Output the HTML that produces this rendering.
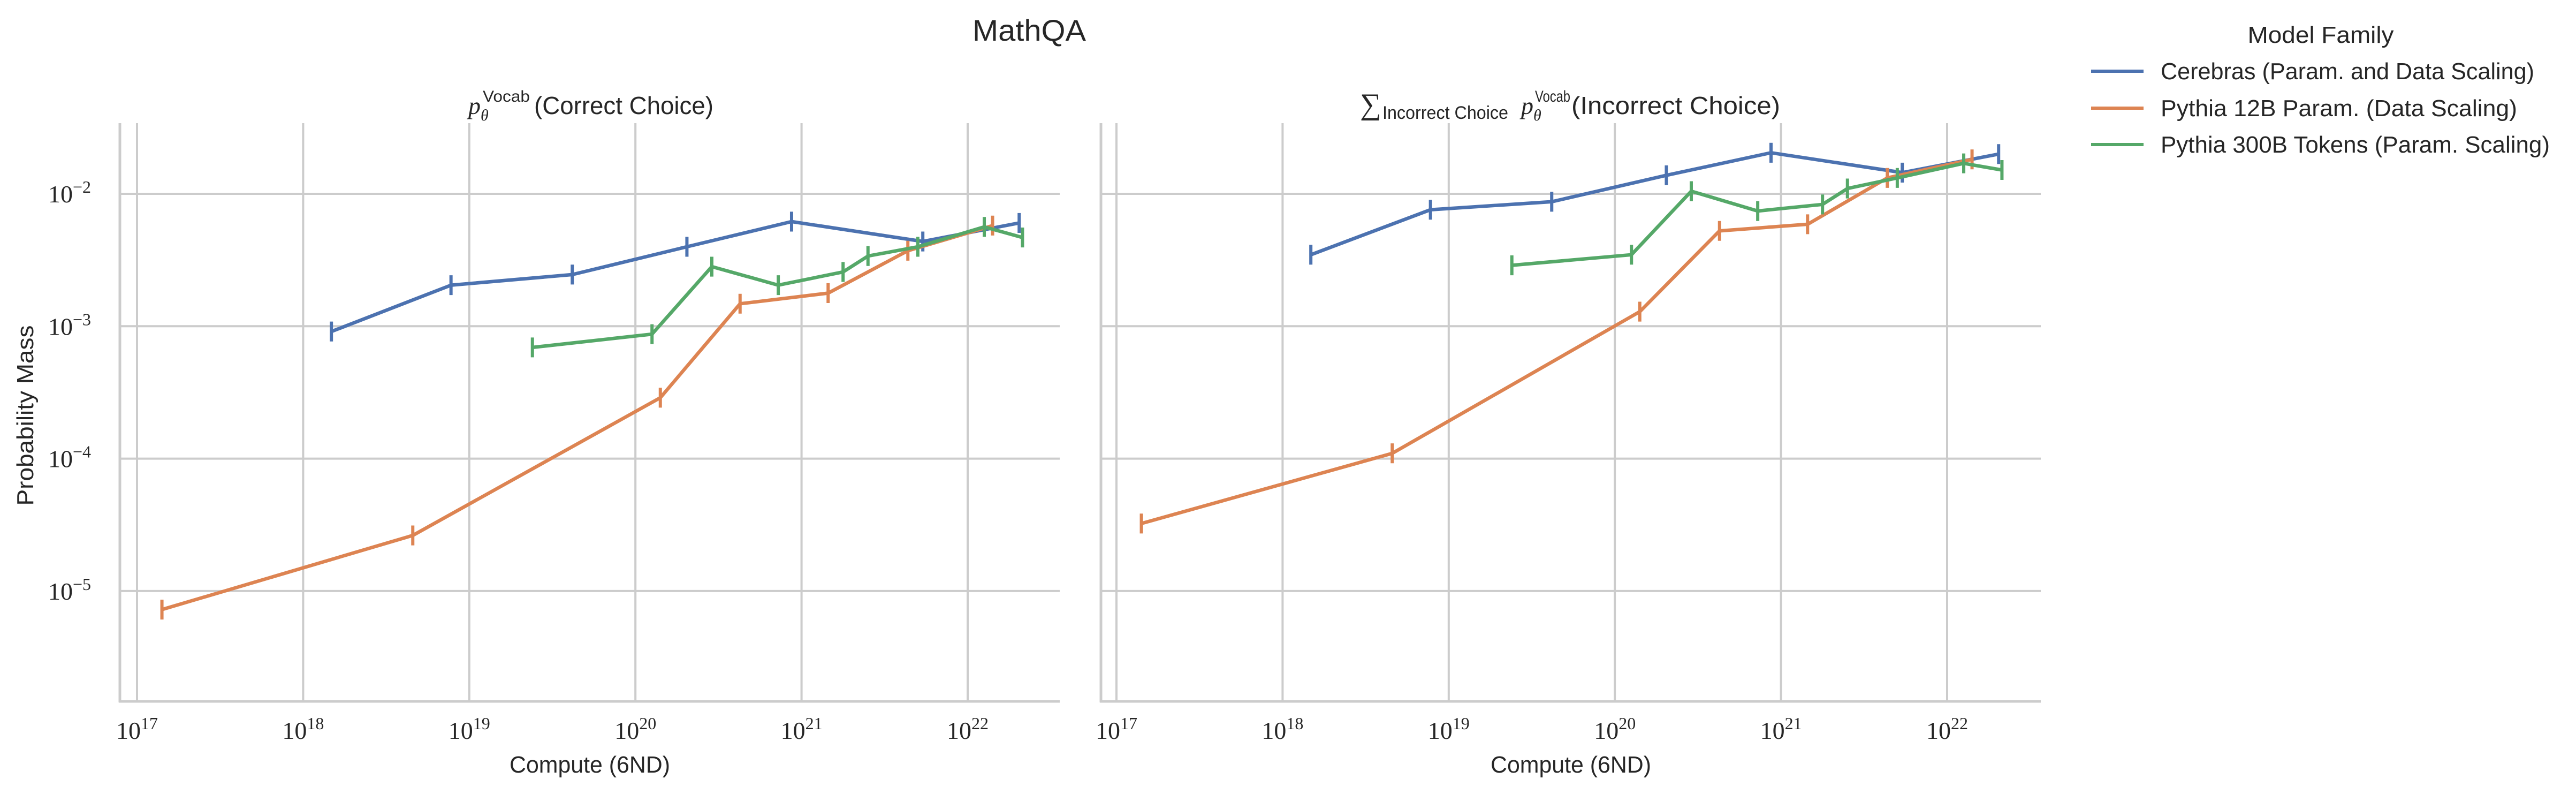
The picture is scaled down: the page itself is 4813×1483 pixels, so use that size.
<!DOCTYPE html>
<html><head><meta charset="utf-8"><style>
html,body{margin:0;padding:0;background:#fff}
svg{display:block}
.sans{font-family:"Liberation Sans",sans-serif;fill:#262626}
.serif{font-family:"Liberation Serif",serif;fill:#262626}
</style></head><body>
<svg id="chart" width="4813" height="1483" viewBox="0 0 4813 1483">
<text class="sans" x="1923" y="76" font-size="56" text-anchor="middle" textLength="212" lengthAdjust="spacingAndGlyphs">MathQA</text>
<g id="left"></g>
<g id="right"></g>
<text class="serif" x="875" y="213" font-size="46" font-style="italic">p<tspan font-size="30" dy="12">θ</tspan></text>
<text class="sans" x="902" y="190" font-size="30" textLength="88" lengthAdjust="spacingAndGlyphs">Vocab</text>
<text class="sans" x="998" y="213" font-size="46" textLength="335" lengthAdjust="spacingAndGlyphs">(Correct Choice)</text>
<text class="serif" x="2541" y="213" font-size="56">∑</text>
<text class="sans" x="2583" y="222" font-size="34" textLength="235" lengthAdjust="spacingAndGlyphs">Incorrect Choice</text>
<text class="serif" x="2842" y="213" font-size="46" font-style="italic">p<tspan font-size="30" dy="12">θ</tspan></text>
<text class="sans" x="2868" y="190" font-size="30" textLength="66" lengthAdjust="spacingAndGlyphs">Vocab</text>
<text class="sans" x="2936" y="213" font-size="46" textLength="390" lengthAdjust="spacingAndGlyphs">(Incorrect Choice)</text>
<text class="sans" x="0" y="0" font-size="44" text-anchor="middle" textLength="337" lengthAdjust="spacingAndGlyphs" transform="translate(62,776) rotate(-90)">Probability Mass</text>
<g>
<text class="sans" x="4336" y="80" font-size="44" text-anchor="middle" textLength="273" lengthAdjust="spacingAndGlyphs">Model Family</text>
<g><line x1="3907" y1="133" x2="4005" y2="133" stroke="#4c72b0" stroke-width="6"/><text class="sans" x="4037" y="148" font-size="44" textLength="698" lengthAdjust="spacingAndGlyphs">Cerebras (Param. and Data Scaling)</text></g>
<g><line x1="3907" y1="202" x2="4005" y2="202" stroke="#dd8452" stroke-width="6"/><text class="sans" x="4037" y="217" font-size="44" textLength="666" lengthAdjust="spacingAndGlyphs">Pythia 12B Param. (Data Scaling)</text></g>
<g><line x1="3907" y1="270" x2="4005" y2="270" stroke="#55a868" stroke-width="6"/><text class="sans" x="4037" y="285" font-size="44" textLength="727" lengthAdjust="spacingAndGlyphs">Pythia 300B Tokens (Param. Scaling)</text></g>
</g>
</svg>
<script>
// log10 compute values and log10 probability values
const cerebrasX = [18.17, 18.89, 19.62, 20.31, 20.94, 21.73, 22.31];
const cerebrasCorrect = [-3.04, -2.69, -2.61, -2.40, -2.21, -2.36, -2.22];
const cerebrasIncorrect = [-2.46, -2.12, -2.06, -1.86, -1.69, -1.84, -1.70];
const pythia12X = [17.15, 18.66, 20.15, 20.63, 21.16, 21.64, 22.15];
const pythia12Correct = [-5.14, -4.58, -3.54, -2.83, -2.75, -2.43, -2.24];
const pythia12Incorrect = [-4.49, -3.96, -2.89, -2.28, -2.23, -1.88, -1.74];
const pythia300X = [19.38, 20.10, 20.46, 20.86, 21.25, 21.40, 21.70, 22.10, 22.33];
const pythia300Correct = [-3.16, -3.06, -2.55, -2.69, -2.59, -2.47, -2.40, -2.25, -2.33];
const pythia300Incorrect = [-2.54, -2.46, -1.98, -2.13, -2.08, -1.96, -1.88, -1.77, -1.82];
const xTickExps = [17, 18, 19, 20, 21, 22];
const yTickExps = [-2, -3, -4, -5];
const errHalf = 0.075;

const NS = 'http://www.w3.org/2000/svg';
function mk(tag, attrs, parent){ const e=document.createElementNS(NS,tag); for(const k in attrs) e.setAttribute(k,attrs[k]); parent.appendChild(e); return e; }
const DEC_X = 310.4, DEC_Y = 247.3, Y0 = 362;
function yScale(v){ return Y0 + (-2 - v) * DEC_Y; }

function panel(g, x17, left, right, series, showY){
  const xS = v => x17 + (v - 17) * DEC_X;
  const top = 230, bottom = 1310;
  xTickExps.forEach(t => {
    const l = mk('line',{x1:xS(t),x2:xS(t),y1:top,y2:bottom,stroke:'#cccccc','stroke-width':4},g);
    
    
    const tx = mk('text',{x:xS(t),y:1380,'font-size':46,'text-anchor':'middle',class:'serif'},g);
    
    
    tx.textContent = '10';
    const sp = mk('tspan',{'font-size':32,dy:-18},tx); sp.textContent = String(t);
  });
  yTickExps.forEach(t => {
    const l = mk('line',{x1:left,x2:right,y1:yScale(t),y2:yScale(t),stroke:'#cccccc','stroke-width':4},g);
    
    
    if(showY){
      const tx = mk('text',{x:130,y:yScale(t)+16,'font-size':46,'text-anchor':'middle',class:'serif'},g);
      
      
      tx.textContent = '10';
      const sp = mk('tspan',{'font-size':32,dy:-18},tx); sp.textContent = '−' + Math.abs(t);
    }
  });
  const sp1 = mk('line',{x1:left,x2:left,y1:top,y2:bottom+2,stroke:'#cccccc','stroke-width':5},g);
  
  
  const sp2 = mk('line',{x1:left-2,x2:right,y1:bottom,y2:bottom,stroke:'#cccccc','stroke-width':5},g);
  
  
  const xt = mk('text',{x:(left+right)/2,y:1443,'font-size':44,'text-anchor':'middle',class:'sans',textLength:300,lengthAdjust:'spacingAndGlyphs'},g);
  
  
  xt.textContent = 'Compute (6ND)';
  series.forEach(s => {
    const xs = s.x, ys = s.y;
    const pts = xs.map((v,i) => xS(v).toFixed(1)+','+yScale(ys[i]).toFixed(1)).join(' ');
    const pl = mk('polyline',{points:pts,fill:'none',stroke:s.c,'stroke-width':6.5,'stroke-linejoin':'round'},g);
    
    
    xs.forEach((v,i) => {
      const e = mk('line',{x1:xS(v),x2:xS(v),y1:yScale(ys[i]+errHalf),y2:yScale(ys[i]-errHalf),stroke:s.c,'stroke-width':6},g);
      
      
    });
  });
}
panel(document.getElementById('left'), 256, 224, 1980, [
  {x:cerebrasX, y:cerebrasCorrect, c:'#4c72b0', n:'cerebras'},
  {x:pythia12X, y:pythia12Correct, c:'#dd8452', n:'pythia-12b'},
  {x:pythia300X, y:pythia300Correct, c:'#55a868', n:'pythia-300b'}], true);
panel(document.getElementById('right'), 2086, 2057, 3813, [
  {x:cerebrasX, y:cerebrasIncorrect, c:'#4c72b0', n:'cerebras'},
  {x:pythia12X, y:pythia12Incorrect, c:'#dd8452', n:'pythia-12b'},
  {x:pythia300X, y:pythia300Incorrect, c:'#55a868', n:'pythia-300b'}], false);
</script>
</body></html>
